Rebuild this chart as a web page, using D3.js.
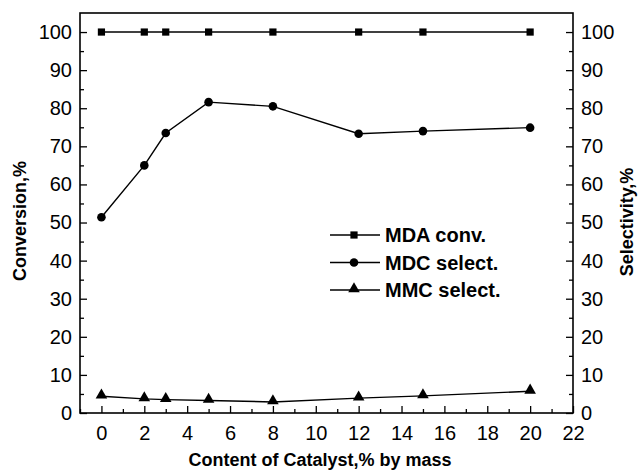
<!DOCTYPE html>
<html>
<head>
<meta charset="utf-8">
<script src="https://cdn.jsdelivr.net/npm/d3@7"></script>
<style>
  body { margin: 0; background: #fff; }
  svg { display: block; font-family: Arial, "Liberation Sans", sans-serif; }
</style>
</head>
<body>
<svg id="chart" width="638" height="471"></svg>
<script>
// catalyst content, % by mass
const content = [0, 2, 3, 5, 8, 12, 15, 20];
const mdaConv = [100, 100, 100, 100, 100, 100, 100, 100];
const mdcSelect = [51.4, 65.0, 73.5, 81.6, 80.5, 73.3, 74.0, 74.9];
const mmcSelect = [4.4, 3.7, 3.5, 3.3, 2.9, 3.9, 4.5, 5.7];
const xTicks = [0, 2, 4, 6, 8, 10, 12, 14, 16, 18, 20, 22];
const yTicks = [0, 10, 20, 30, 40, 50, 60, 70, 80, 90, 100];

const series = [
    {name: "MDA conv.", values: mdaConv, marker: "square"},
    {name: "MDC select.", values: mdcSelect, marker: "circle"},
    {name: "MMC select.", values: mmcSelect, marker: "triangle"}
];

let svg = d3.select("#chart");
let plotLeft = 80, plotRight = 573, plotTop = 13, plotBottom = 413;

let x = d3.scaleLinear().domain([-1, 22]).range([plotLeft, plotRight]);
let y = d3.scaleLinear().domain([0, 105]).range([plotBottom, plotTop]);

// minor ticks every 1 on x, every 5 on y
let xMinor = d3.range(-1, 23, 1).filter(v => v % 2 !== 0);
let yMinor = d3.range(5, 105, 10);

function styleAxis(g) {
    g.select(".domain").remove();
    g.selectAll(".tick line").attr("stroke", "#000").attr("stroke-width", 1.3);
    g.selectAll(".tick text").attr("fill", "#000").style("font-size", "20px");
}

// bottom axis, ticks inward
svg.append("g")
    .attr("transform", `translate(0,${plotBottom})`)
    .call(d3.axisBottom(x).tickValues(xTicks).tickSizeInner(-7).tickSizeOuter(0).tickPadding(13))
    .call(styleAxis);
svg.append("g")
    .attr("transform", `translate(0,${plotBottom})`)
    .call(d3.axisBottom(x).tickValues(xMinor).tickSizeInner(-4).tickSizeOuter(0).tickFormat(""))
    .call(styleAxis);

// left axis
svg.append("g")
    .attr("transform", `translate(${plotLeft},0)`)
    .call(d3.axisLeft(y).tickValues(yTicks).tickSizeInner(-7).tickSizeOuter(0).tickPadding(8))
    .call(styleAxis);
svg.append("g")
    .attr("transform", `translate(${plotLeft},0)`)
    .call(d3.axisLeft(y).tickValues(yMinor).tickSizeInner(-4).tickSizeOuter(0).tickFormat(""))
    .call(styleAxis);

// right axis
svg.append("g")
    .attr("transform", `translate(${plotRight},0)`)
    .call(d3.axisRight(y).tickValues(yTicks).tickSizeInner(-7).tickSizeOuter(0).tickPadding(8))
    .call(styleAxis);
svg.append("g")
    .attr("transform", `translate(${plotRight},0)`)
    .call(d3.axisRight(y).tickValues(yMinor).tickSizeInner(-4).tickSizeOuter(0).tickFormat(""))
    .call(styleAxis);

// frame
svg.append("rect")
    .attr("x", plotLeft).attr("y", plotTop)
    .attr("width", plotRight - plotLeft).attr("height", plotBottom - plotTop)
    .attr("fill", "none").attr("stroke", "#000").attr("stroke-width", 1.6);

// axis titles
svg.append("text")
    .attr("x", 320).attr("y", 466)
    .attr("text-anchor", "middle")
    .style("font-size", "18px").style("font-weight", "bold")
    .text("Content of Catalyst,% by mass");

svg.append("text")
    .attr("transform", "translate(26,221) rotate(-90)")
    .attr("text-anchor", "middle")
    .style("font-size", "18px").style("font-weight", "bold")
    .text("Conversion,%");

svg.append("text")
    .attr("transform", "translate(633,222) rotate(-90)")
    .attr("text-anchor", "middle")
    .style("font-size", "18px").style("font-weight", "bold")
    .text("Selectivity,%");

const symbols = {
    square: d3.symbol().type(d3.symbolSquare).size(52),
    circle: d3.symbol().type(d3.symbolCircle).size(58),
    triangle: d3.symbol().type(d3.symbolTriangle).size(58)
};

let line = d3.line()
    .x(d => x(d[0]))
    .y(d => y(d[1]));

series.forEach(function (s) {
    let pts = content.map((c, i) => [c, s.values[i]]);
    svg.append("path")
        .datum(pts)
        .attr("d", line)
        .attr("fill", "none")
        .attr("stroke", "#000")
        .attr("stroke-width", 1.4);
    svg.append("g")
        .selectAll("path")
        .data(pts)
        .join("path")
        .attr("d", symbols[s.marker])
        .attr("transform", d => `translate(${x(d[0])},${y(d[1]) - (s.marker === "triangle" ? 1 : 0)})`)
        .attr("fill", "#000");
});

// legend
let legend = svg.append("g");
series.forEach(function (s, i) {
    let ly = 235 + i * 27.5;
    legend.append("line")
        .attr("x1", 330).attr("x2", 380)
        .attr("y1", ly).attr("y2", ly)
        .attr("stroke", "#000").attr("stroke-width", 1.4);
    legend.append("path")
        .attr("d", symbols[s.marker])
        .attr("transform", `translate(354,${ly - (s.marker === "triangle" ? 1 : 0)})`)
        .attr("fill", "#000");
    legend.append("text")
        .attr("x", 385).attr("y", ly + 7)
        .style("font-size", "20px").style("font-weight", "bold")
        .text(s.name);
});
</script>
</body>
</html>
